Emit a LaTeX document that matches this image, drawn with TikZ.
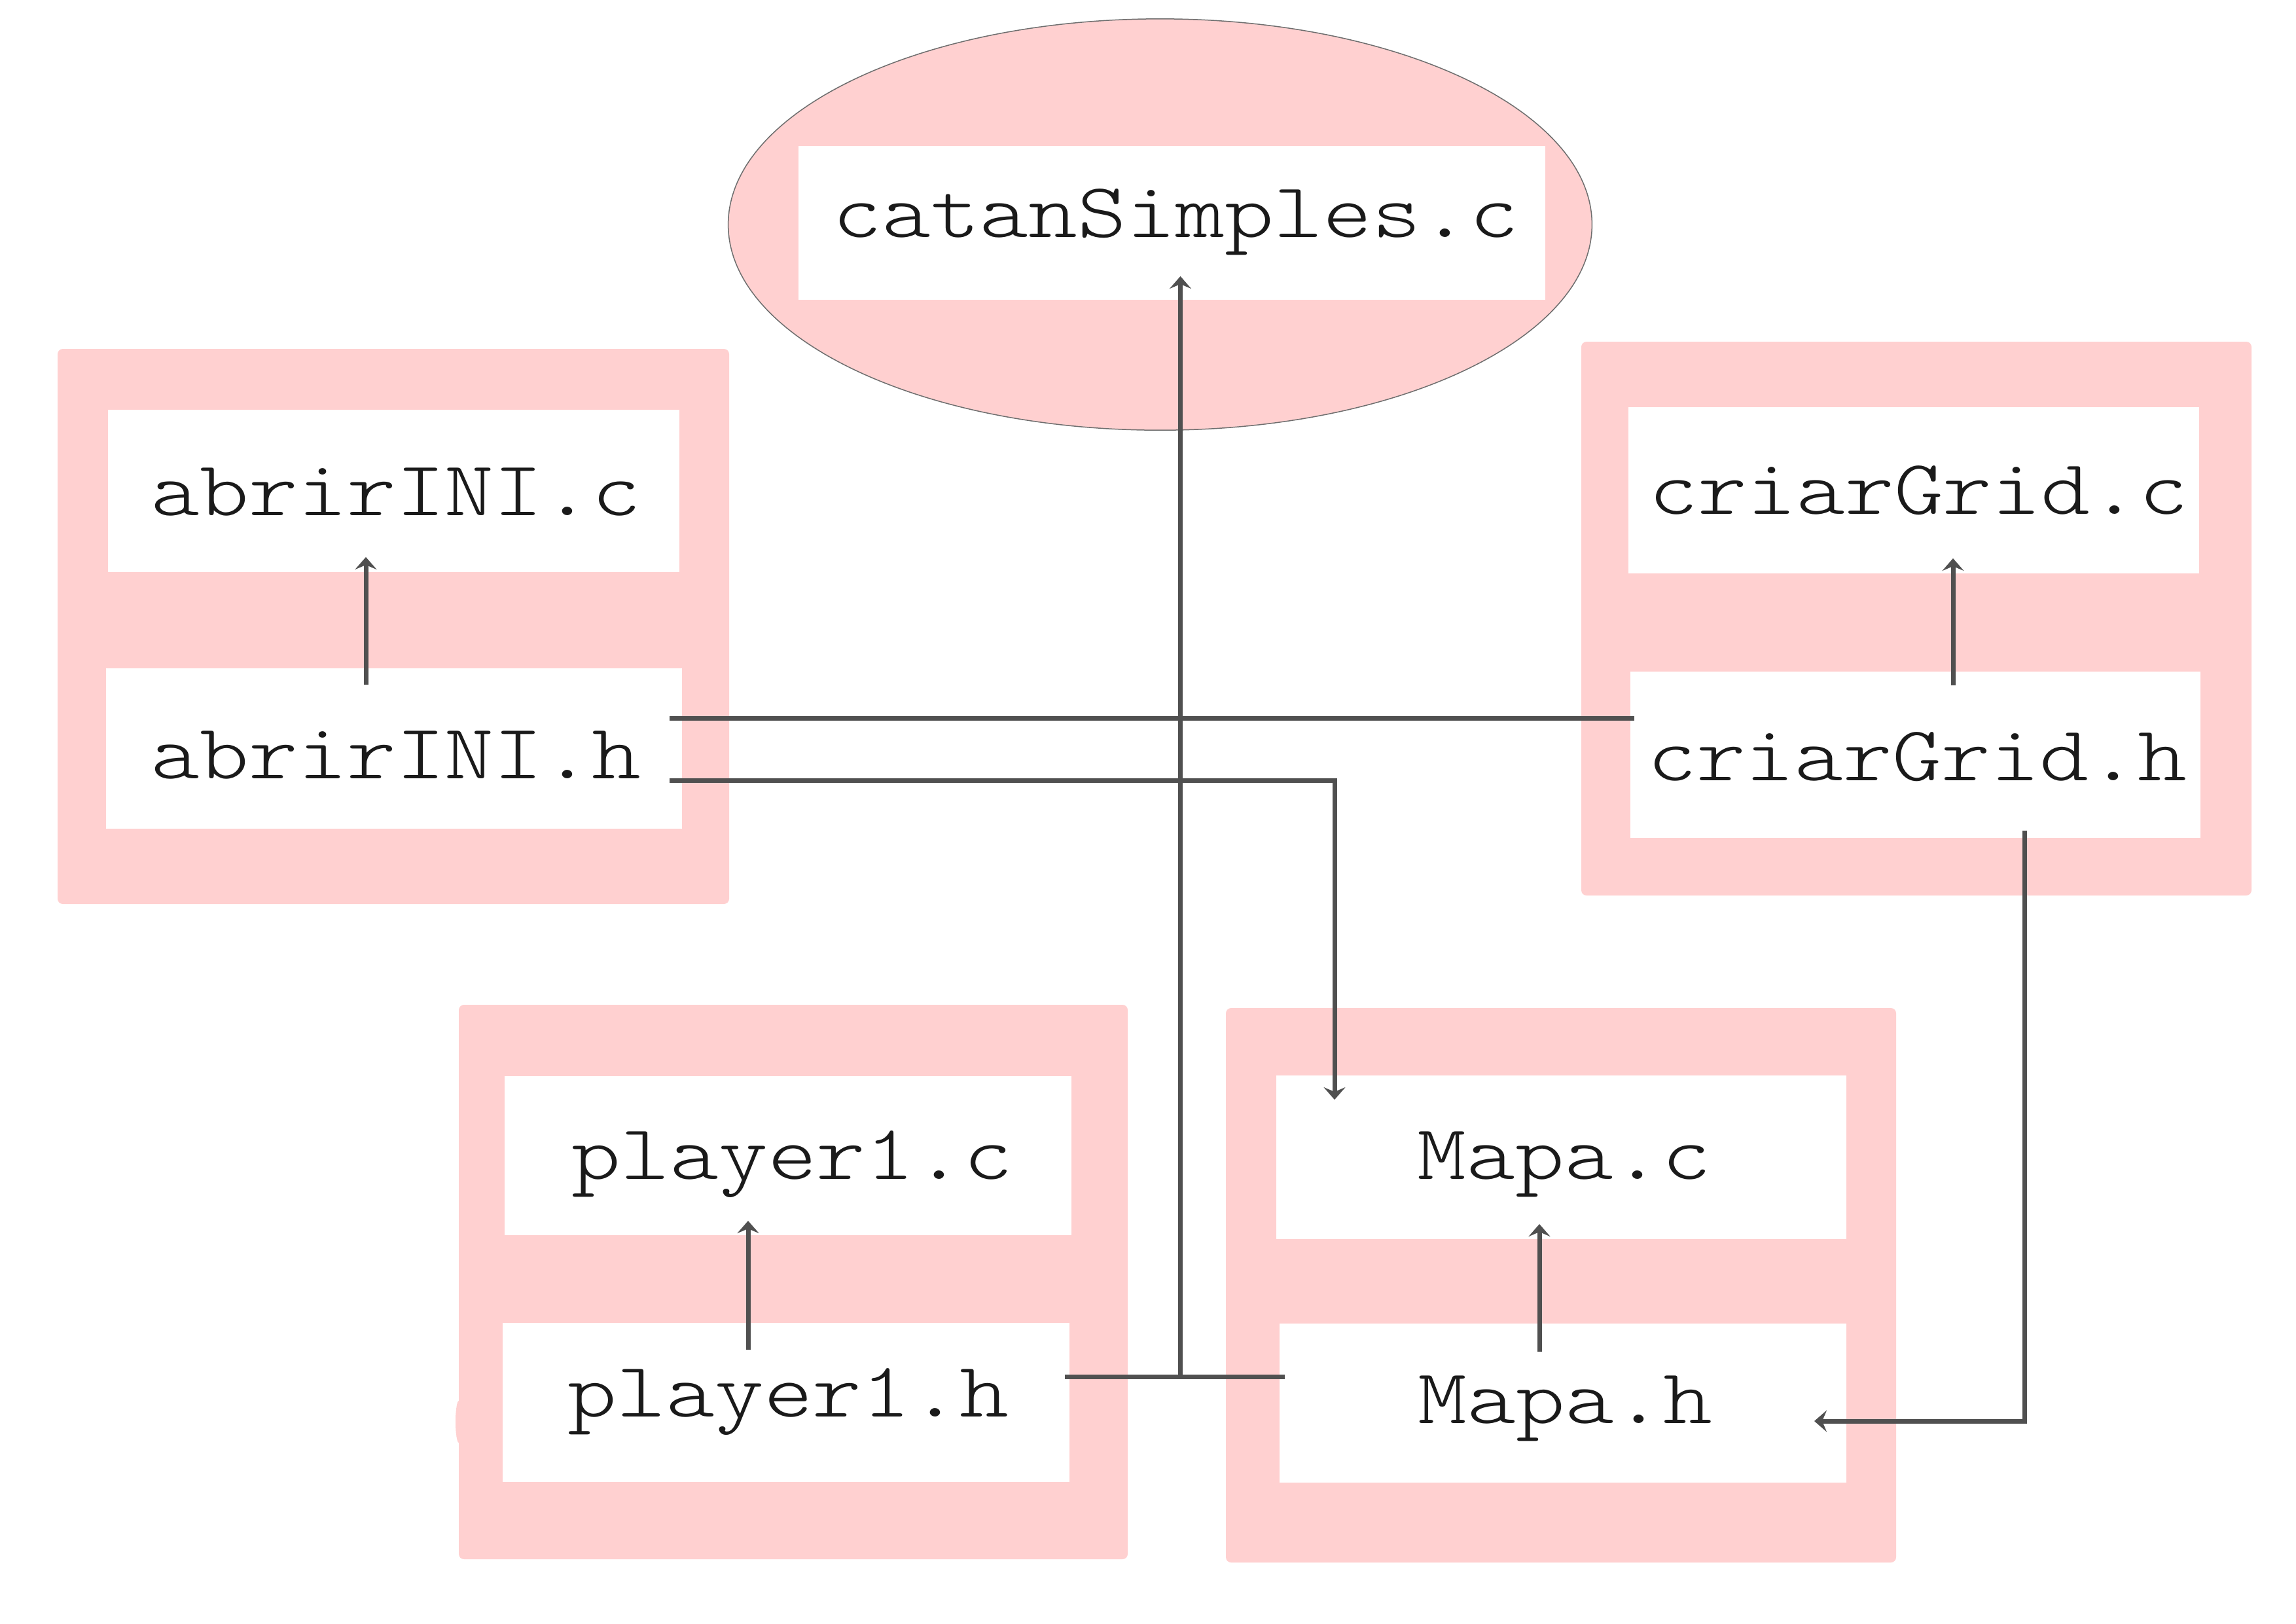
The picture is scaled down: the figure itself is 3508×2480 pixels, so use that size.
\documentclass[tikz,border=0pt]{standalone}
\usepackage{fontspec}
\newfontfamily\lmlight{lmmonolt10-regular.otf}
\usetikzlibrary{shapes.geometric,fit,calc,arrows.meta}
\definecolor{pinkc}{RGB}{255,208,208}
\definecolor{linec}{RGB}{80,80,80}
\definecolor{txtc}{RGB}{26,26,26}
\definecolor{ellc}{RGB}{110,110,110}
\newcommand\fname[1]{\scalebox{1.20}[1]{#1}}
\begin{document}
\begin{tikzpicture}[x=0.01cm,y=-0.01cm,
  pinkbox/.style={fill=pinkc, rounded corners=0.8mm, inner sep=0pt, outer sep=0pt},
  wbox/.style={fill=white, inner sep=0pt, outer sep=0pt},
  lbl/.style={font=\lmlight\fontsize{33.8pt}{40pt}\selectfont, text=txtc, inner sep=0pt, anchor=base},
  ln/.style={draw=linec, line width=0.7mm},
  arr/.style={ln, -{Stealth[length=1.9mm,width=3.3mm,inset=0.7mm]}}]
\useasboundingbox (0,0) rectangle (3508,2480);
\fill[white] (0,0) rectangle (3508,2480);

% top ellipse
\node[ellipse, draw=ellc, fill=pinkc, line width=0.15mm, inner sep=0pt,
      minimum width=13.19cm, minimum height=6.28cm] (ell) at (1772.5,343) {};

% pink groups
\node[pinkbox, fit={(88,533) (1114,1381)}] (gA) {};
\node[pinkbox, fit={(2416,522) (3440,1368)}] (gC) {};
\node[pinkbox, fit={(701,1535) (1723,2382)}] (gP) {};
\node[pinkbox, fit={(1873,1540) (2897,2387)}] (gM) {};
\fill[pinkc] (701,2172) ellipse [x radius=5, y radius=32];

% white file boxes
\node[wbox, fit={(1220,223) (2361,458)}] (cs) {};
\node[wbox, fit={(165,626) (1038,874)}] (Ac) {};
\node[wbox, fit={(162,1021) (1042,1266)}] (Ah) {};
\node[wbox, fit={(2488,622) (3360,876)}] (Cc) {};
\node[wbox, fit={(2491,1026) (3362,1280)}] (Ch) {};
\node[wbox, fit={(771,1644) (1637,1887)}] (Pc) {};
\node[wbox, fit={(768,2021) (1634,2264)}] (Ph) {};
\node[wbox, fit={(1950,1643) (2821,1893)}] (Mc) {};
\node[wbox, fit={(1955,2022) (2821,2265)}] (Mh) {};

% labels
\node[lbl] (tcs) at ($(cs.center)+(6,21.5)$) {\fname{catanSimples.c}};
\node[lbl] (tAc) at ($(Ac.center)+(3.5,37)$) {\fname{abrirINI.c}};
\node[lbl] (tAh) at ($(Ah.center)+(3,45.5)$) {\fname{abrirINI.h}};
\node[lbl] (tCc) at ($(Cc.center)+(7.5,36)$) {\fname{criarGrid.c}};
\node[lbl] (tCh) at ($(Ch.center)+(2.5,39)$) {\fname{criarGrid.h}};
\node[lbl] (tPc) at ($(Pc.center)+(6.5,35.5)$) {\fname{player1.c}};
\node[lbl] (tPh) at ($(Ph.center)+(3.5,21.5)$) {\fname{player1.h}};
\node[lbl] (tMc) at ($(Mc.center)+(4.5,33)$) {\fname{Mapa.c}};
\node[lbl] (tMh) at ($(Mh.center)+(3.5,31)$) {\fname{Mapa.h}};

% .h -> .c arrows inside groups
\draw[arr] ($(Ah.north)+(-43,25)$) -- ($(Ac.south)+(-42.5,-23)$);
\draw[arr] ($(Ch.north)+(57.5,21)$) -- ($(Cc.south)+(60,-23)$);
\draw[arr] ($(Ph.north)+(-58,41)$) -- ($(Pc.south)+(-61,-22)$);
\draw[arr] ($(Mh.north)+(-36,43)$) -- ($(Mc.south)+(-33.5,-23)$);

% player1.h -- Mapa.h with trunk to catanSimples.c
\coordinate (pmL) at ($(Ph.east)+(-7,-39.5)$);
\coordinate (pmR) at ($(Mh.west)+(8,-40.5)$);
\coordinate (csIn) at ($(cs.south)+(13,-36)$);
\draw[ln] (pmL) -- (pmR);
\draw[arr] (csIn |- pmL) -- (csIn);

% abrirINI.h -- criarGrid.h
\draw[ln] ($(Ah.east)+(-19,-46.5)$) -- ($(Ch.west)+(6,-56)$);
% abrirINI.h -> Mapa.c
\draw[arr] ($(Ah.east)+(-19,48.5)$) -| ($(Mc.north)+(-346.5,37)$);
% criarGrid.h -> Mapa.h
\draw[arr] ($(Ch.south)+(166.5,-11)$) |- ($(Mh.east)+(-49,27.5)$);
\end{tikzpicture}
\end{document}
